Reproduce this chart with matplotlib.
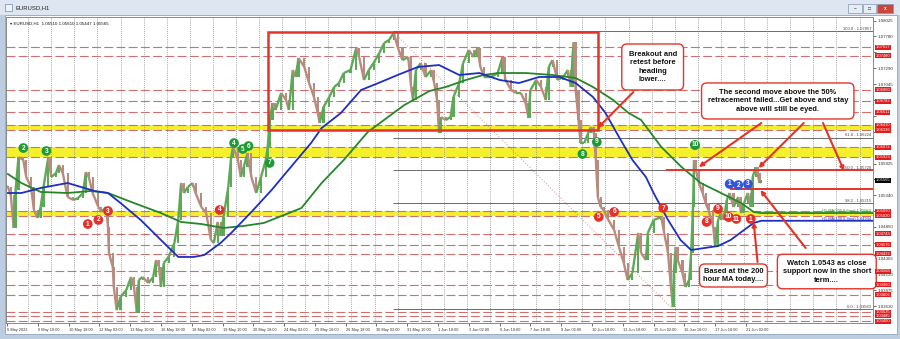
import numpy as np
import matplotlib
matplotlib.use("Agg")
from matplotlib import pyplot as plt
from matplotlib import rcParams
from matplotlib.collections import LineCollection
from matplotlib.patches import Rectangle
from matplotlib.transforms import blended_transform_factory

rcParams["font.family"] = ["Liberation Sans", "DejaVu Sans"]

W, H = 900, 339

# ---- price path (hours counted from 6 May 2022 open) ----
bar_hour = [
    0, 1, 4, 7, 9, 12, 17, 20, 25, 28,
    32, 35, 38, 43, 46, 51, 54, 58, 63, 69,
    74, 79, 82, 85, 89, 95, 98, 103, 105, 106,
    110, 111, 114, 118, 124, 129, 132, 135, 137, 141,
    147, 152, 155, 158, 160, 163, 168, 174, 178, 181,
    184, 188, 193, 196, 202, 207, 212, 215, 219, 222,
    225, 230, 233, 235, 240, 243, 246, 250, 254, 259,
    264, 269, 271, 273, 276, 279, 285, 290, 293, 297,
    300, 303, 309, 314, 319, 323, 325, 329, 335, 340,
    345, 350, 357, 363, 366, 371, 376, 381, 387, 392,
    397, 402, 406, 411, 417, 420, 422, 425, 430, 435,
    441, 444, 447, 449, 451, 456, 461, 464, 470, 474,
    480, 485, 489, 492, 496, 503, 510, 515, 518, 524,
    529, 534, 539, 542, 544, 550, 555, 560, 563, 567,
    572, 578, 583, 586, 588, 589, 591, 594, 596, 600,
    604, 607, 610, 612, 614, 617, 620, 625, 631, 636,
    641, 645, 650, 656, 659, 664, 666, 672, 680, 683,
    687, 690, 692, 693, 695, 697, 702, 705, 709, 711,
    713, 714, 716, 719, 723, 726, 729, 734, 736, 739,
    742, 745, 748, 751, 755, 760, 763, 766, 770, 773,
    775, 778, 780, 782, 784,
]
close = [
    1.05479, 1.05463, 1.05340, 1.04833, 1.05417, 1.05925, 1.05879, 1.05617, 1.05463, 1.05110,
    1.04987, 1.05156, 1.05463, 1.05925, 1.05617, 1.05679, 1.05802, 1.05679, 1.05310, 1.05263,
    1.05294, 1.05371, 1.05694, 1.05617, 1.05371, 1.05156, 1.05079, 1.05156, 1.04848, 1.04448,
    1.04233, 1.03925, 1.03571, 1.03771, 1.03879, 1.04079, 1.03925, 1.03525, 1.04033, 1.04079,
    1.03987, 1.04079, 1.04340, 1.04233, 1.03925, 1.04294, 1.04387, 1.04602, 1.04956, 1.05525,
    1.05371, 1.05463, 1.05525, 1.05371, 1.05156, 1.05063, 1.04648, 1.04602, 1.04925, 1.04710,
    1.05002, 1.05463, 1.05925, 1.06079, 1.05879, 1.05617, 1.05771, 1.05987, 1.05617, 1.05371,
    1.05617, 1.05879, 1.06079, 1.06494, 1.06756, 1.06648, 1.06910, 1.06802, 1.06648, 1.07263,
    1.07156, 1.07448, 1.07310, 1.07063, 1.06848, 1.06602, 1.06448, 1.06694, 1.06848, 1.07002,
    1.07063, 1.07217, 1.07263, 1.07602, 1.07463, 1.07110, 1.07263, 1.07371, 1.07525, 1.07679,
    1.07725, 1.07833, 1.07617, 1.07417, 1.07463, 1.07002, 1.06802, 1.07263, 1.07371, 1.07156,
    1.07263, 1.07063, 1.06802, 1.06294, 1.06540, 1.06494, 1.06540, 1.06848, 1.07063, 1.07371,
    1.07571, 1.07463, 1.07602, 1.07310, 1.07156, 1.07156, 1.07217, 1.07463, 1.07110, 1.06956,
    1.06910, 1.06910, 1.06756, 1.06525, 1.06956, 1.07110, 1.07002, 1.06802, 1.07310, 1.07417,
    1.07110, 1.07156, 1.07263, 1.07002, 1.07525, 1.07694, 1.06956, 1.06494, 1.06140, 1.06140,
    1.06294, 1.06387, 1.06294, 1.05879, 1.05310, 1.05156, 1.05110, 1.04956, 1.04802, 1.04540,
    1.04294, 1.04033, 1.04140, 1.04756, 1.04448, 1.04340, 1.04756, 1.04956, 1.05002, 1.04756,
    1.04448, 1.03925, 1.03617, 1.04140, 1.04540, 1.04340, 1.04140, 1.03925, 1.04033, 1.04448,
    1.05156, 1.05879, 1.05725, 1.05525, 1.05371, 1.05217, 1.05110, 1.04848, 1.04540, 1.04956,
    1.05063, 1.04956, 1.05263, 1.05371, 1.05156, 1.05310, 1.05063, 1.05217, 1.05371, 1.05156,
    1.05617, 1.05771, 1.05679, 1.05525, 1.05565,
]

# 100 hour MA (blue) and 200 hour MA (green)
ma100_hour = [1, 15, 35, 63, 77, 91, 105, 118, 139, 160, 178, 194, 205, 222, 233, 254,
              275, 295, 316, 327, 347, 368, 386, 406, 427, 449, 470, 491, 512, 532, 553,
              574, 591, 609, 622, 636, 650, 664, 672, 687, 700, 711, 725, 739, 752, 766,
              776, 784]
ma100 = [1.05371, 1.05371, 1.05448, 1.05525, 1.05463, 1.05402, 1.05371, 1.05217, 1.04956,
         1.04648, 1.04387, 1.04387, 1.04417, 1.04602, 1.04756, 1.05079, 1.05417, 1.05771,
         1.06140, 1.06371, 1.06602, 1.06956, 1.07063, 1.07187, 1.07310, 1.07340, 1.07187,
         1.07217, 1.07110, 1.07063, 1.07156, 1.07156, 1.07063, 1.06848, 1.06602, 1.06233,
         1.05879, 1.05617, 1.05371, 1.04956, 1.04648, 1.04494, 1.04525, 1.04556, 1.04648,
         1.04802, 1.04910, 1.04944]
ma200_hour = [1, 15, 35, 63, 87, 105, 132, 160, 181, 202, 225, 246, 267, 288, 306, 327,
              350, 375, 396, 413, 428, 439, 456, 477, 495, 511, 539, 567, 591, 609, 630,
              646, 659, 680, 701, 721, 742, 763, 776, 784]
ma200 = [1.05663, 1.05525, 1.05387, 1.05371, 1.05402, 1.05371, 1.05217, 1.05063, 1.04925,
         1.04894, 1.04833, 1.04864, 1.04910, 1.05033, 1.05140, 1.05525, 1.05879, 1.06310,
         1.06540, 1.06725, 1.06848, 1.06940, 1.07002, 1.07110, 1.07187, 1.07217, 1.07217,
         1.07187, 1.07140, 1.07002, 1.06802, 1.06602, 1.06494, 1.06079, 1.05771, 1.05525,
         1.05371, 1.05217, 1.05079, 1.05063]

last_price = 1.05565

# horizontal levels
red_levels = [1.07617, 1.07480, 1.06960, 1.06782, 1.06611, 1.06410, 1.06336, 1.06072,
              1.05923, 1.05090, 1.05020, 1.04743, 1.04576, 1.04433, 1.04168, 1.03960,
              1.03806, 1.03535, 1.03485, 1.03400]
yellow_lo = [1.06336, 1.05923, 1.05020]
yellow_hi = [1.06410, 1.06072, 1.05090]
# price scale labels that are not covered by a tag
axis_prices = [1.08025, 1.07780, 1.07290, 1.07045, 1.05825, 1.05340, 1.04850,
               1.04365, 1.04120, 1.03875, 1.03630]
grid_prices = [1.08025, 1.07780, 1.07535, 1.07290, 1.07045, 1.06800, 1.06555, 1.06310,
               1.06065, 1.05825, 1.05580, 1.05340, 1.05095, 1.04850, 1.04605, 1.04365,
               1.04120, 1.03875, 1.03630]

fib_pct = [100.0, 61.8, 50.0, 38.2, 0.0]
fib_price = [1.07857, 1.06224, 1.05720, 1.05215, 1.03583]
fib_from, fib_to = 401, 692  # 30 May high -> 15 Jun low

# numbered touches: (label, hour, price, colour key)
touch_lbl = ["2", "3", "1", "2", "3", "4", "4", "5", "6", "7", "8", "9", "5", "6", "7",
             "10", "8", "9", "10", "11", "1", "1", "2", "3"]
touch_hour = [17, 41, 84, 95, 105, 221, 236, 245, 251, 273, 598, 613, 615, 631, 682,
              715, 727, 739, 750, 758, 773, 751, 760, 770]
touch_price = [1.06063, 1.06017, 1.04894, 1.04956, 1.05094, 1.05110, 1.06140, 1.06048,
               1.06094, 1.05833, 1.05971, 1.06156, 1.05002, 1.05079, 1.05140, 1.06110,
               1.04925, 1.05125, 1.05002, 1.04971, 1.04971, 1.05510, 1.05494, 1.05510]
touch_col = ["g", "g", "r", "r", "r", "r", "g", "g", "g", "g", "g", "g", "r", "r", "r",
             "g", "r", "r", "r", "r", "r", "b", "b", "b"]

date_labels = ["6 May 2022", "9 May 10:00", "10 May 18:00", "12 May 02:00", "13 May 10:00",
               "16 May 18:00", "18 May 02:00", "19 May 10:00", "20 May 18:00",
               "24 May 02:00", "25 May 10:00", "26 May 18:00", "30 May 02:00",
               "31 May 10:00", "1 Jun 18:00", "3 Jun 02:00", "6 Jun 10:00", "7 Jun 18:00",
               "9 Jun 02:00", "10 Jun 10:00", "13 Jun 18:00", "15 Jun 02:00",
               "16 Jun 10:00", "17 Jun 18:00", "21 Jun 02:00"]

# colours
UP = "#5ea957"
DOWN = "#b78b7e"
RED = "#e3342a"
BLUE = "#1d2fc0"
GREEN = "#25862a"
DOTS = {"g": "#1f9a35", "r": "#e4312b", "b": "#2f55e0"}


def fx(x):
    return x / W


def fy(y):
    return 1 - y / H


fig = plt.figure(figsize=(W / 100, H / 100), dpi=100)
fig.patch.set_facecolor("#bccde2")

# window chrome
fig.add_artist(Rectangle((0, fy(15)), 1, 15 / H, transform=fig.transFigure,
                         fc="#dde6f1", ec="none", zorder=-2))
fig.add_artist(Rectangle((fx(5), fy(334)), fx(892), 319 / H, transform=fig.transFigure,
                         fc="white", ec="#8fa6c0", lw=0.6, zorder=-1))
fig.add_artist(Rectangle((fx(5), fy(11)), fx(7), 7 / H, transform=fig.transFigure,
                         fc="#eef3f8", ec="#6d89ad", lw=0.5))
fig.text(fx(16), fy(7.5), "EURUSD,H1", fontsize=4.2, va="center", color="#222")
for x0, x1, fc, sym in [(848, 862, "#e7edf4", "\u2013"), (863, 876, "#e7edf4", "\u25a1"),
                        (877, 893, "#c9463d", "x")]:
    fig.add_artist(Rectangle((fx(x0), fy(13)), fx(x1 - x0), 9 / H, transform=fig.transFigure,
                             fc=fc, ec="#8196b3", lw=0.5))
    fig.text(fx((x0 + x1) / 2), fy(9), sym, fontsize=3.5, ha="center", va="center",
             color="white" if sym == "x" else "#333", fontweight="bold")

ax = fig.add_axes([fx(6), 16 / H, fx(867), 306 / H])
ax.set_facecolor("white")
ax.set_xlim(-1, 900)
ax.set_ylim(1.03371, 1.08079)

# grid and levels
ax.set_xticks(np.arange(22, 900, 24), minor=True)
ax.grid(which="minor", axis="x", color="#8a8a8a", ls=(0, (1, 1.5)), lw=0.6)
for lo, hi in zip(yellow_lo, yellow_hi):
    ax.axhspan(lo, hi, color="#f4f02c", lw=0, zorder=0.5)
for lvl in red_levels:
    ax.axhline(lvl, color="#cf6f6f", ls=(0, (8, 3)), lw=0.8, zorder=0.8)

ax.hlines(fib_price, fib_from, 900, color="#6b6b6b", lw=0.7, zorder=1)
ax.plot([fib_from, fib_to], [fib_price[0], fib_price[-1]], color="#cf8d8d",
        ls=(0, (1, 2)), lw=0.7, zorder=1)
for pct, p in zip(fib_pct, fib_price):
    ax.text(898, p + 0.00004, f"{pct:.1f} - {p:.5f}", fontsize=3, color="#444",
            ha="right", va="bottom", zorder=4)

# red box around the consolidation
ax.add_patch(Rectangle((271, 1.06337), 614 - 271, 1.07848 - 1.06337, fill=False,
                       ec=RED, lw=1.8, zorder=4))

# price path: each leg coloured by direction, bodies at the turns
hours = np.array(bar_hour, dtype=float)
closes = np.array(close)
legs = np.stack([np.c_[hours[:-1], closes[:-1]], np.c_[hours[1:], closes[1:]]], axis=1)
leg_col = np.where(closes[1:] >= closes[:-1], UP, DOWN)
ax.add_collection(LineCollection(legs, colors=leg_col, linewidths=1.7, zorder=2.2,
                                 capstyle="butt"))
opens = np.r_[closes[0], closes[:-1]]
ax.bar(hours, closes - opens, bottom=opens, width=2.2,
       color=np.where(closes >= opens, UP, DOWN), lw=0, zorder=2.1)

# moving averages, carried flat to the right edge
ax.plot(ma200_hour + [900], ma200 + [ma200[-1]], color=GREEN, lw=1.3, zorder=3)
ax.plot(ma100_hour + [900], ma100 + [ma100[-1]], color=BLUE, lw=1.3, zorder=3)
ax.text(898, ma200[-1] + 0.00003, f"H1 MA(200,0,Sma) {ma200[-1]:.5f}", fontsize=2.8,
        color=GREEN, ha="right", va="bottom", zorder=4)
ax.text(898, ma100[-1] + 0.00003, f"H1 MA(100,0,Sma) {ma100[-1]:.5f}", fontsize=2.8,
        color=BLUE, ha="right", va="bottom", zorder=4)

# red horizontal lines: 50% retracement and 1.0543 support
ax.hlines(1.05720, 685, 900, color=RED, lw=1.4, zorder=4)
ax.hlines(1.05430, 751, 900, color=RED, lw=1.4, zorder=4)

# numbered touches
for lbl, h, p, c in zip(touch_lbl, touch_hour, touch_price, touch_col):
    ax.text(h, p, lbl, fontsize=4.8, color="white", fontweight="bold", ha="center",
            va="center", zorder=6,
            bbox=dict(boxstyle="circle,pad=0.2", fc=DOTS[c], ec="none"))

# comment boxes and arrows
arrow_kw = dict(arrowstyle="-|>", color=RED, lw=1.5, mutation_scale=6, shrinkA=0, shrinkB=0)
for start, end in [((651, 1.06925), (614, 1.06371)),
                   ((784, 1.06448), (719, 1.05771)),
                   ((828, 1.06448), (781, 1.05756)),
                   ((848, 1.06448), (870, 1.05710)),
                   ((780, 1.04310), (776, 1.04925)),
                   ((830, 1.04525), (783, 1.05417))]:
    ax.annotate("", xy=end, xytext=start, arrowprops=arrow_kw, zorder=7,
                annotation_clip=False)

notes = [
    (671, 1.07310, "Breakout and\nretest before\nheading\nlower....", 0.9),
    (801, 1.06787, "The second move above the 50%\nretracement failed...Get above and stay\n"
                   "above will still be eyed.", 0.8),
    (755, 1.04102, "Based at the 200\nhour MA today....", 0.5),
    (852, 1.04163, "Watch 1.0543 as close\nsupport now in the short\nterm....", 0.7),
]
for h, p, txt, pad in notes:
    ax.text(h, p, txt, fontsize=5.4, fontweight="bold", ha="center", va="center",
            multialignment="center", linespacing=1.3, zorder=8, color="#111",
            bbox=dict(boxstyle=f"round,pad={pad},rounding_size=0.7", fc="white",
                      ec=RED, lw=1.0))

# header line inside the chart
ax.text(0.005, 0.985, "\u25be EURUSD,H1  1.05510 1.05610 1.05447 1.05565",
        transform=ax.transAxes, fontsize=3.2, va="top", ha="left", color="#111", zorder=5)

# axes styling
ax.yaxis.tick_right()
ax.set_yticks(axis_prices)
ax.set_yticklabels([f"{p:.5f}" for p in axis_prices])
ax.set_yticks(grid_prices, minor=True)
ax.tick_params(axis="y", which="major", labelsize=3.2, length=2, width=0.5, pad=1.5,
               colors="#333")
ax.tick_params(axis="y", which="minor", length=2, width=0.5, colors="#333")
ax.set_xticks(np.arange(0, 32 * len(date_labels), 32))
ax.set_xticklabels(date_labels, ha="left")
ax.tick_params(axis="x", which="major", labelsize=2.8, length=2, width=0.5, pad=1.5,
               colors="#333")
ax.tick_params(axis="x", which="minor", length=0)
for s in ax.spines.values():
    s.set_color("#8a8a8a")
    s.set_linewidth(0.7)

# price scale tags
tag = blended_transform_factory(ax.transAxes, ax.transData)
for lvl in red_levels:
    ax.text(1.003, lvl, f"{lvl:.5f}", transform=tag, fontsize=3.0, color="white",
            va="center", ha="left", zorder=9,
            bbox=dict(boxstyle="square,pad=0.12", fc="#e31b1b", ec="none"))
ax.text(1.003, last_price, f"{last_price:.5f}", transform=tag, fontsize=3.0, color="white",
        va="center", ha="left", zorder=9,
        bbox=dict(boxstyle="square,pad=0.12", fc="black", ec="none"))

fig.savefig("out.png", dpi=100, facecolor=fig.get_facecolor())
